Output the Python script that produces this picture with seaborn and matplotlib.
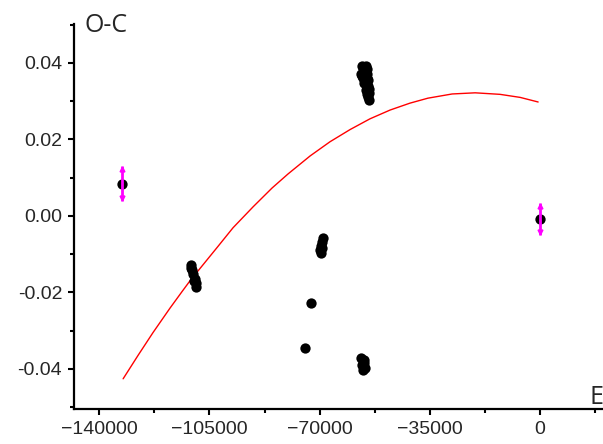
import numpy as np
import pandas as pd
import seaborn as sns
import matplotlib.pyplot as plt
from matplotlib.ticker import MultipleLocator

# O-C points (black)
epoch = [-56500, -55200, -55900, -56800, -54900, -56200, -54600, -55900, -54600, -55200, -54300, -54600, -54300,
         -56200, -55500, -54800, -56600, -55300, -55000, -54400, -54800,
         -56800, -55900, -56500, -55600, -56200, -55900,
         -68900, -69200, -69500, -69800, -69500, -69100,
         -72700, -74600,
         -110800, -110500, -110200, -109500, -109200, -109200, -110900, -109800,
         -132700, 0]
oc = [0.0392, 0.0392, 0.0382, 0.0371, 0.0371, 0.0361, 0.0356, 0.0348, 0.0340, 0.0329, 0.0322, 0.0311, 0.0303,
      0.0387, 0.0377, 0.0384, 0.0366, 0.0352, 0.0362, 0.0333, 0.0318,
      -0.0371, -0.0376, -0.0390, -0.0397, -0.0403, -0.0385,
      -0.0058, -0.0068, -0.0078, -0.0089, -0.0097, -0.0083,
      -0.0227, -0.0345,
      -0.0128, -0.0141, -0.0152, -0.0165, -0.0175, -0.0186, -0.0135, -0.0170,
      0.0084, -0.0008]

# points with error bars (magenta)
epoch_err = [-132700, 0]
oc_err = [0.0084, -0.0008]
err = [0.0046, 0.0042]

# fitted parabola
epoch_fit = [-132400, -127600, -122900, -117500, -113700, -111100, -102500, -97500, -91100, -85100, -80000,
             -73000, -66700, -60300, -54000, -47600, -41300, -35600, -27900, -20600, -12700, -6300, -600]
oc_fit = [-0.0426, -0.0364, -0.0305, -0.0241, -0.0198, -0.0169, -0.0082, -0.0031, 0.0024, 0.0073, 0.0110,
          0.0157, 0.0194, 0.0226, 0.0254, 0.0277, 0.0295, 0.0308, 0.0319, 0.0322, 0.0318, 0.0310, 0.0298]

df = pd.DataFrame({'E': epoch, 'O-C': oc})
fit = pd.DataFrame({'E': epoch_fit, 'O-C': oc_fit})

sns.set_style("ticks")
plt.rcParams['font.family'] = ['Liberation Sans', 'DejaVu Sans']

fig = plt.figure(figsize=(6.03, 4.44), dpi=100)
ax = fig.add_axes([74 / 603, 35 / 444, 529 / 603, 385 / 444])

sns.lineplot(data=fit, x='E', y='O-C', color='red', linewidth=1, sort=False, ax=ax, zorder=2)
sns.scatterplot(data=df, x='E', y='O-C', color='black', s=55, edgecolor='black', linewidth=0, ax=ax, zorder=3)
ax.errorbar(epoch_err, oc_err, yerr=err, fmt='none', ecolor='magenta', elinewidth=2, capsize=0, zorder=4)
ax.plot(epoch_err, np.array(oc_err) + np.array(err) - 0.0008, '^', color='magenta', ms=3.5, zorder=4)
ax.plot(epoch_err, np.array(oc_err) - np.array(err) + 0.0008, 'v', color='magenta', ms=3.5, zorder=4)

ax.set_xlim(-148000, 20000)
ax.set_ylim(-0.0505, 0.0502)
ax.xaxis.set_major_locator(MultipleLocator(35000))
ax.xaxis.set_minor_locator(MultipleLocator(17500))
ax.yaxis.set_major_locator(MultipleLocator(0.02))
ax.yaxis.set_minor_locator(MultipleLocator(0.01))
ax.yaxis.set_major_formatter(plt.FormatStrFormatter('%.2f'))
ax.tick_params(which='major', direction='out', length=4.5, width=1.5, labelsize=14, pad=4, color='black')
ax.tick_params(which='minor', direction='out', length=3, width=1.5, color='black')
sns.despine(ax=ax)
for s in ['left', 'bottom']:
    ax.spines[s].set_linewidth(1.6)
    ax.spines[s].set_color('black')
ax.set_xlabel('')
ax.set_ylabel('')

fig.text(85 / 603, 1 - 32 / 444, 'O-C', fontsize=18, family=['Open Sans', 'DejaVu Sans'], va='baseline')
fig.text(590 / 603, 1 - 404 / 444, 'E', fontsize=18, family=['Open Sans', 'DejaVu Sans'], va='baseline')

fig.savefig('out.png', dpi=100)
